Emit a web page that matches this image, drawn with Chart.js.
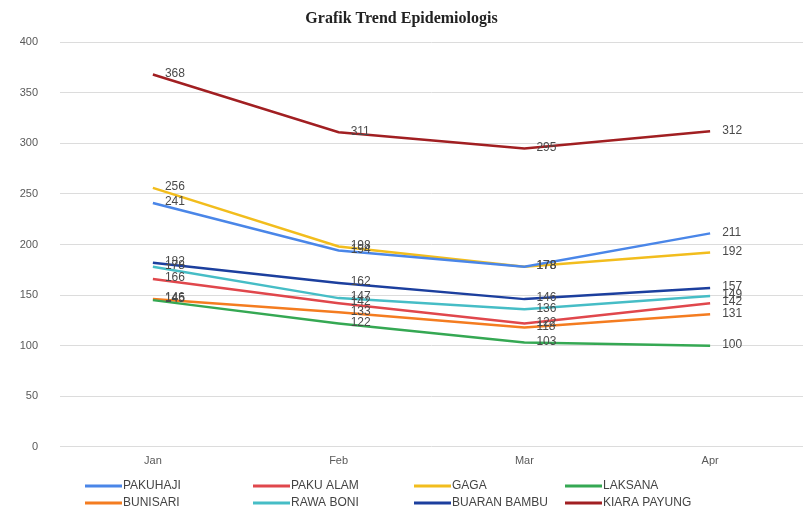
<!DOCTYPE html>
<html>
<head>
<meta charset="utf-8">
<script src="https://cdn.jsdelivr.net/npm/chart.js@4"></script>
<style>
  html, body { margin: 0; padding: 0; background: #fff; overflow: hidden; }
  #wrap { width: 803px; height: 511px; }
</style>
</head>
<body>
<div id="wrap"><canvas id="grafik" width="803" height="511"></canvas></div>
<script>
// data
const bulan = ["Jan", "Feb", "Mar", "Apr"]
const pakuhaji = [241, 194, 178, 211]
const pakuAlam = [166, 142, 122, 142]
const gaga = [256, 198, 178, 192]
const laksana = [145, 122, 103, 100]
const bunisari = [146, 133, 118, 131]
const rawaBoni = [178, 147, 136, 149]
const buaranBambu = [182, 162, 146, 157]
const kiaraPayung = [368, 311, 295, 312]
const yTicks = [0, 50, 100, 150, 200, 250, 300, 350, 400]

const series = [
  ["PAKUHAJI", pakuhaji, "#4a86e8"],
  ["PAKU ALAM", pakuAlam, "#e0474c"],
  ["GAGA", gaga, "#f2bd1d"],
  ["LAKSANA", laksana, "#35a853"],
  ["BUNISARI", bunisari, "#f47c20"],
  ["RAWA BONI", rawaBoni, "#46bdc6"],
  ["BUARAN BAMBU", buaranBambu, "#1c3f9e"],
  ["KIARA PAYUNG", kiaraPayung, "#a11f22"],
]

let dataset = []
for (let i = 0; i < series.length; i++) {
  dataset.push({
    label: series[i][0],
    data: series[i][1],
    borderColor: series[i][2],
    backgroundColor: series[i][2],
    borderWidth: 2.5,
    pointRadius: 0,
    tension: 0,
  })
}

//labels next to every point
const labelNilai = {
  id: "labelNilai",
  afterDatasetsDraw(chart) {
    const ctx = chart.ctx
    ctx.save()
    ctx.font = "12px 'Liberation Sans', Arial, sans-serif"
    ctx.fillStyle = "#4a4a4a"
    ctx.textAlign = "left"
    ctx.textBaseline = "middle"
    chart.data.datasets.forEach((ds, d) => {
      chart.getDatasetMeta(d).data.forEach((pt, i) => {
        ctx.fillText(ds.data[i], pt.x + 12, pt.y - 1)
      })
    })
    ctx.restore()
  }
}

//legend in 4 columns, 2 rows
const legendaGrid = {
  id: "legendaGrid",
  afterDraw(chart) {
    const ctx = chart.ctx
    const kolom = [85, 253, 414, 565]
    const baris = [486, 503]
    ctx.save()
    ctx.font = "12px 'Liberation Sans', Arial, sans-serif"
    ctx.textAlign = "left"
    ctx.textBaseline = "middle"
    chart.data.datasets.forEach((ds, i) => {
      const x = kolom[i % 4]
      const y = baris[Math.floor(i / 4)]
      ctx.strokeStyle = ds.borderColor
      ctx.lineWidth = 3
      ctx.beginPath()
      ctx.moveTo(x, y)
      ctx.lineTo(x + 37, y)
      ctx.stroke()
      ctx.fillStyle = "#444"
      ctx.fillText(ds.label, x + 38, y)
    })
    ctx.restore()
  }
}

const config = {
  type: "line",
  data: { labels: bulan, datasets: dataset },
  options: {
    responsive: false,
    animation: false,
    layout: { padding: { left: 0, right: 0, top: 0, bottom: 35 } },
    plugins: {
      legend: { display: false },
      tooltip: { enabled: false },
      title: {
        display: true,
        text: "Grafik Trend Epidemiologis",
        color: "#222",
        font: { family: "'Liberation Serif', 'Times New Roman', serif", size: 16, weight: "bold" },
        padding: { top: 9, bottom: 14 },
      },
    },
    scales: {
      x: {
        offset: true,
        grid: { display: false, drawTicks: false },
        border: { display: false },
        ticks: {
          color: "#595959",
          padding: 8,
          font: { family: "'Liberation Sans', Arial, sans-serif", size: 11 },
        },
      },
      y: {
        min: 0,
        max: 400,
        afterBuildTicks: (s) => { s.ticks = yTicks.map(v => ({ value: v })) },
        afterFit: (s) => { s.width = 60 },
        grid: { color: "#dcdcdc", lineWidth: 1, drawTicks: false },
        border: { display: false },
        ticks: {
          color: "#595959",
          padding: 22,
          font: { family: "'Liberation Sans', Arial, sans-serif", size: 11 },
        },
      },
    },
  },
  plugins: [labelNilai, legendaGrid],
}

const myChart = new Chart(document.getElementById("grafik"), config)
</script>
</body>
</html>
